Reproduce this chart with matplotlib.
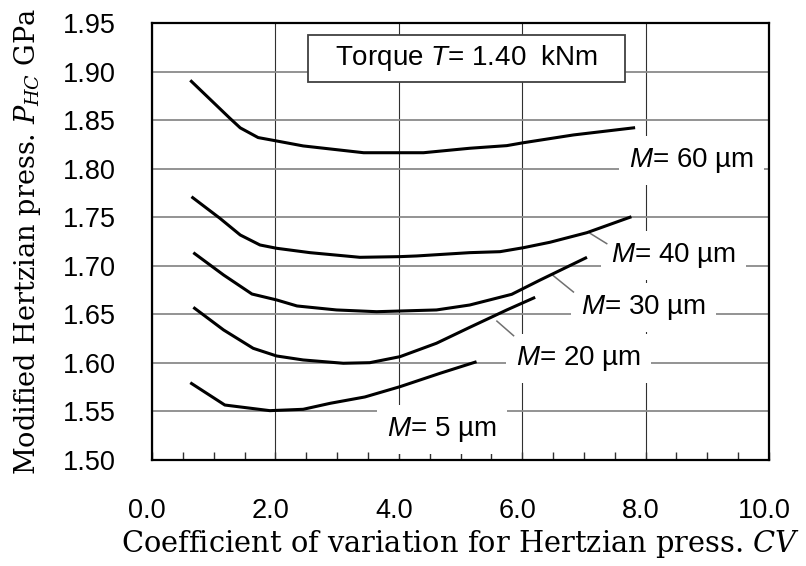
import matplotlib
matplotlib.use("Agg")
import matplotlib.pyplot as plt
import matplotlib.transforms as mtransforms
from matplotlib.patches import Rectangle
from matplotlib.ticker import MultipleLocator, FormatStrFormatter

# ---- data ----
cv_60 = [0.62, 1.26, 1.43, 1.72, 2.02, 2.45, 2.94, 3.43, 4.02, 4.40, 5.15, 5.75, 6.02, 6.83, 7.83]
p_60 = [1.891, 1.852, 1.842, 1.832, 1.8285, 1.8234, 1.8199, 1.8164, 1.8164, 1.8164, 1.8210, 1.8237, 1.8267, 1.8347, 1.8422]

cv_40 = [0.64, 1.10, 1.43, 1.75, 2.02, 2.56, 3.37, 4.02, 4.29, 5.15, 5.64, 6.02, 6.45, 7.05, 7.77]
p_40 = [1.7711, 1.7489, 1.7317, 1.7214, 1.7180, 1.7135, 1.7087, 1.7094, 1.7101, 1.7135, 1.7145, 1.7186, 1.7242, 1.7341, 1.7505]

cv_30 = [0.67, 1.16, 1.62, 2.02, 2.35, 2.99, 3.64, 4.02, 4.61, 5.15, 5.83, 6.29, 7.05]
p_30 = [1.7135, 1.6905, 1.6709, 1.6648, 1.6586, 1.6545, 1.6527, 1.6534, 1.6545, 1.6596, 1.6706, 1.6853, 1.7087]

cv_20 = [0.67, 1.16, 1.64, 2.02, 2.45, 3.10, 3.53, 4.02, 4.61, 5.15, 5.75, 6.21]
p_20 = [1.6572, 1.6339, 1.6150, 1.6071, 1.6030, 1.5996, 1.6002, 1.6064, 1.6202, 1.6366, 1.6545, 1.6675]

cv_5 = [0.62, 1.18, 1.91, 2.45, 2.89, 3.45, 4.02, 4.67, 5.26]
p_5 = [1.5796, 1.5566, 1.5508, 1.5522, 1.5584, 1.5649, 1.5755, 1.5893, 1.6012]

series_cv = [cv_60, cv_40, cv_30, cv_20, cv_5]
series_p = [p_60, p_40, p_30, p_20, p_5]

label_texts = [r"$\it{M}$= 60 µm", r"$\it{M}$= 40 µm", r"$\it{M}$= 30 µm",
               r"$\it{M}$= 20 µm", r"$\it{M}$= 5 µm"]
label_x = [8.74, 8.45, 7.97, 6.91, 4.70]
label_y = [1.808, 1.711, 1.657, 1.605, 1.531]

# leader lines (start -> end) for 40, 30, 20 µm labels
leader_x0 = [7.10, 6.50, 5.59]
leader_y0 = [1.7334, 1.690, 1.643]
leader_x1 = [7.37, 6.83, 5.86]
leader_y1 = [1.7228, 1.673, 1.628]

x_ticks = [0, 2, 4, 6, 8, 10]
y_ticks = [1.50, 1.55, 1.60, 1.65, 1.70, 1.75, 1.80, 1.85, 1.90, 1.95]

# ---- figure ----
plt.rcParams['font.family'] = ['Liberation Sans', 'DejaVu Sans']
plt.rcParams['mathtext.fontset'] = 'custom'
plt.rcParams['mathtext.it'] = 'Liberation Sans:italic'
plt.rcParams['mathtext.rm'] = 'Liberation Sans'

fig = plt.figure(figsize=(8.06, 5.66), dpi=100)
ax = fig.add_axes([0.1886, 0.1873, 0.7655, 0.7721])
ax.set_axisbelow(True)

ax.set_xlim(0, 10)
ax.set_ylim(1.50, 1.95)
ax.set_xticks(x_ticks)
ax.set_yticks(y_ticks)
ax.xaxis.set_minor_locator(MultipleLocator(0.5))
ax.xaxis.set_major_formatter(FormatStrFormatter('%.1f'))
ax.yaxis.set_major_formatter(FormatStrFormatter('%.2f'))

ax.xaxis.grid(True, which='major', color='#303030', lw=0.8)
ax.yaxis.grid(True, which='major', color='#8a8a8a', lw=1.3)

ax.tick_params(axis='x', which='both', direction='in', length=5.5, width=1.0,
               color='#303030', labelsize=19.5, pad=27.5)
ax.tick_params(axis='y', which='both', length=0, labelsize=19.5, pad=26)
for lab in ax.get_xticklabels():
    lab.set_transform(lab.get_transform() + mtransforms.ScaledTranslation(-5/100, 0, fig.dpi_scale_trans))

for s in ax.spines.values():
    s.set_linewidth(1.6)
    s.set_color('black')

for cv, p in zip(series_cv, series_p):
    ax.plot(cv, p, color='black', lw=2.2, solid_capstyle='butt', zorder=3)

for x0, y0, x1, y1 in zip(leader_x0, leader_y0, leader_x1, leader_y1):
    ax.plot([x0, x1], [y0, y1], color='#707070', lw=1.1, zorder=2.8)

for t, x, y in zip(label_texts, label_x, label_y):
    ax.text(x, y, t, ha='center', va='center', fontsize=20, zorder=2,
            bbox=dict(boxstyle='square,pad=0.36', fc='white', ec='none'))

# torque box
ax.add_patch(Rectangle((2.53, 1.8892), 7.67 - 2.53, 1.9376 - 1.8892,
                       fc='white', ec='#404040', lw=1.3, zorder=2))
ax.text(5.10, 1.9135, r"Torque $\it{T}$= 1.40  kNm", ha='center', va='center',
        fontsize=20, zorder=3)

ax.set_xlabel(r"Coefficient of variation for Hertzian press. $CV$",
              family='DejaVu Serif', fontsize=20.8, labelpad=3,
              math_fontfamily='dejavuserif')
ax.set_ylabel(r"Modified Hertzian press. $P_{HC}$ GPa",
              family='DejaVu Serif', fontsize=19.5, labelpad=14,
              math_fontfamily='dejavuserif')

fig.savefig("out.png", dpi=100)
